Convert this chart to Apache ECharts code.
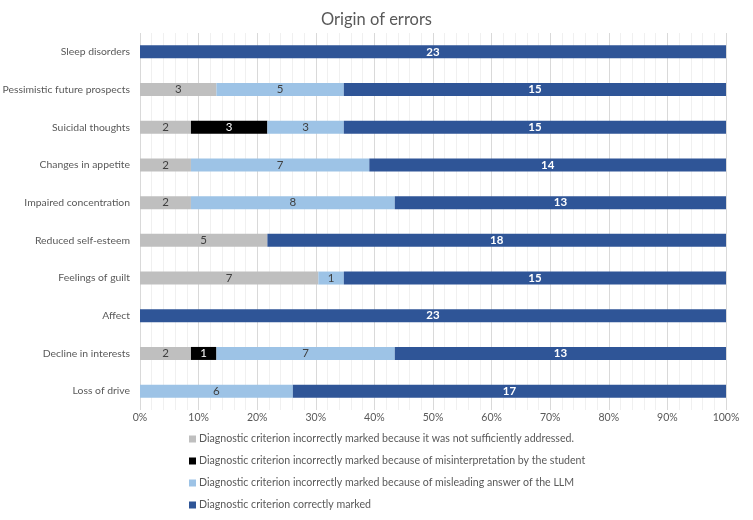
<!DOCTYPE html>
<html>
<head>
<meta charset="utf-8">
<script src="https://cdn.jsdelivr.net/npm/echarts@6/dist/echarts.min.js"></script>
<style>
  html, body { margin: 0; padding: 0; background: #fff; }
  #chart { width: 753px; height: 520px; }
</style>
</head>
<body>
<div id="chart"></div>
<script>
var categories = [
  'Sleep disorders', 'Pessimistic future prospects', 'Suicidal thoughts',
  'Changes in appetite', 'Impaired concentration', 'Reduced self-esteem',
  'Feelings of guilt', 'Affect', 'Decline in interests', 'Loss of drive'
];
var notAddressed = [0, 3, 2, 2, 2, 5, 7, 0, 2, 0];
var misinterpreted = [0, 0, 3, 0, 0, 0, 0, 0, 1, 0];
var misleadingLLM = [0, 5, 3, 7, 8, 0, 1, 0, 7, 6];
var correct = [23, 15, 15, 14, 13, 18, 15, 23, 13, 17];

var seriesNames = [
  'Diagnostic criterion incorrectly marked because it was not sufficiently addressed.',
  'Diagnostic criterion incorrectly marked because of misinterpretation by the student',
  'Diagnostic criterion incorrectly marked because of misleading answer of the LLM',
  'Diagnostic criterion correctly marked'
];
var seriesColors = ['#bfbfbf', '#000000', '#9dc3e6', '#2f5597'];
var labelColors = ['#404040', '#ffffff', '#404040', '#ffffff'];
var rawData = [notAddressed, misinterpreted, misleadingLLM, correct];

var font = 'Lato, "Open Sans", sans-serif';

// totals per category, for the 100% stack
var totals = [];
for (var i = 0; i < categories.length; ++i) {
  totals[i] = notAddressed[i] + misinterpreted[i] + misleadingLLM[i] + correct[i];
}

var series = [];
for (var s = 0; s < rawData.length; ++s) {
  (function(s) {
    var pct = [];
    for (var i = 0; i < categories.length; ++i) {
      pct.push(rawData[s][i] / totals[i] * 100);
    }
    series.push({
      name: seriesNames[s],
      type: 'bar',
      stack: 'total',
      barWidth: 13,
      data: pct,
      itemStyle: { color: seriesColors[s] },
      label: {
        show: true,
        position: 'inside',
        color: labelColors[s],
        fontFamily: font,
        fontSize: 11.5,
        fontWeight: s == 3 ? 'bold' : 'normal',
        formatter: function(params) {
          var v = rawData[s][params.dataIndex];
          return v ? String(v) : '';
        }
      }
    });
  })(s);
}

var myChart = echarts.init(document.getElementById('chart'));
var option = {
  animation: false,
  title: {
    text: 'Origin of errors',
    left: 'center',
    top: 6,
    textStyle: { color: '#595959', fontSize: 16.5, fontWeight: 'normal', fontFamily: font }
  },
  legend: {
    orient: 'vertical',
    left: 184,
    top: 427,
    itemWidth: 7,
    itemHeight: 7,
    itemGap: 8,
    icon: 'rect',
    data: seriesNames,
    textStyle: { color: '#595959', fontSize: 10.6, fontFamily: font, lineHeight: 14, padding: [0, 0, 0, -2] }
  },
  grid: { left: 140, right: 27, top: 33, bottom: 110, outerBoundsMode: 'none', containLabel: false },
  xAxis: {
    type: 'value',
    min: 0,
    max: 100,
    interval: 10,
    axisLine: { show: false },
    axisTick: { show: false },
    axisLabel: {
      color: '#595959', fontSize: 10.5, fontFamily: font, margin: 2,
      formatter: function(v) { return v + '%'; }
    },
    splitLine: { show: true, lineStyle: { color: '#d9d9d9' } },
    minorTick: { show: false, splitNumber: 5 },
    minorSplitLine: { show: true, lineStyle: { color: '#f0f0f0' } }
  },
  yAxis: {
    type: 'category',
    inverse: true,
    data: categories,
    axisLine: { show: false },
    axisTick: { show: false },
    axisLabel: { color: '#595959', fontSize: 10.4, fontFamily: font, margin: 10 }
  },
  series: series
};
myChart.setOption(option);
</script>
</body>
</html>
